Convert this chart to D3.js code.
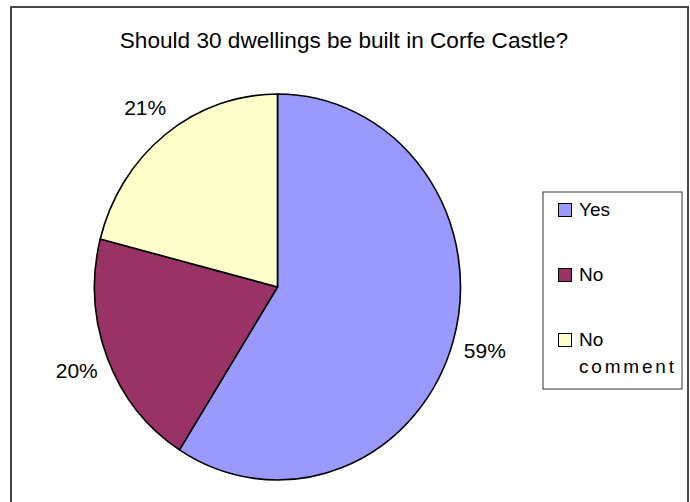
<!DOCTYPE html>
<html>
<head>
<meta charset="utf-8">
<script src="https://cdn.jsdelivr.net/npm/d3@7/dist/d3.min.js"></script>
<style>
  html, body { margin: 0; padding: 0; background: #fff; }
  svg { display: block; font-family: "Liberation Sans", Arial, sans-serif; }
</style>
</head>
<body>
<svg id="chart" width="690" height="502"></svg>
<script>
// Survey answers: share of responses per option (percent)
const categories = ["Yes", "No", "No comment"];
const values = [59, 20, 21];
const colors = ["#9999FF", "#993366", "#FFFFCC"];
const title = "Should 30 dwellings be built in Corfe Castle?";

const svg = d3.select("#chart");

// chart frame
svg.append("rect")
  .attr("x", 11).attr("y", 7)
  .attr("width", 677).attr("height", 520)
  .attr("fill", "#fff")
  .attr("stroke", "#333").attr("stroke-width", 1.8);

svg.append("text")
  .attr("x", 344).attr("y", 48)
  .attr("text-anchor", "middle")
  .attr("font-size", 22.6)
  .attr("fill", "#000")
  .text(title);

// pie geometry (slightly taller than wide)
const cx = 277.5, cy = 287, rx = 183, ry = 193;
const sy = ry / rx;

const pie = d3.pie().sort(null).value(d => d)
  .startAngle(0).endAngle(2 * Math.PI);
const arcs = pie(values);
const arc = d3.arc().innerRadius(0).outerRadius(rx);
const labelArc = d3.arc().innerRadius(rx * 1.18).outerRadius(rx * 1.18);

const g = svg.append("g")
  .attr("transform", `translate(${cx},${cy}) scale(1,${sy})`);

g.selectAll("path")
  .data(arcs)
  .join("path")
  .attr("d", arc)
  .attr("fill", (d, i) => colors[i])
  .attr("stroke", "#000")
  .attr("stroke-width", 1.6)
  .attr("vector-effect", "non-scaling-stroke")
  .attr("stroke-linejoin", "round");

// percentage labels outside the slices
const total = d3.sum(values);
const fmt = v => Math.round(v / total * 100) + "%";
const labelSize = 21, capH = labelSize * 0.716;

svg.selectAll("text.pct")
  .data(arcs)
  .join("text")
  .attr("class", "pct")
  .attr("font-size", labelSize)
  .attr("fill", "#000")
  .attr("text-anchor", "middle")
  .attr("x", d => cx + labelArc.centroid(d)[0])
  .attr("y", d => cy + labelArc.centroid(d)[1] * sy + capH / 2)
  .text(d => fmt(d.value));

// legend
const legend = svg.append("g");
legend.append("rect")
  .attr("x", 543).attr("y", 192)
  .attr("width", 139).attr("height", 197)
  .attr("fill", "#fff")
  .attr("stroke", "#333").attr("stroke-width", 1);

const rowY = d3.scalePoint().domain(categories).range([216, 346]);

const items = legend.selectAll("g.item")
  .data(categories)
  .join("g")
  .attr("class", "item")
  .attr("transform", d => `translate(0,${rowY(d)})`);

items.append("rect")
  .attr("x", 558.5).attr("y", -12.5)
  .attr("width", 13).attr("height", 13)
  .attr("fill", (d, i) => colors[i])
  .attr("stroke", "#000").attr("stroke-width", 1);

items.append("text")
  .attr("x", 579)
  .attr("font-size", 19)
  .attr("fill", "#000")
  .each(function (d) {
    const words = d.split(" ");
    const t = d3.select(this);
    words.forEach((w, k) => {
      t.append("tspan")
        .attr("x", 579)
        .attr("dy", k === 0 ? 0 : 27)
        .attr("letter-spacing", k === 0 ? 0 : 2.8)
        .text(w);
    });
  });
</script>
</body>
</html>
